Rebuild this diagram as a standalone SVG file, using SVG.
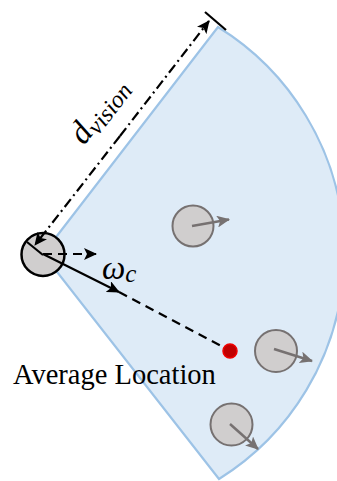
<svg xmlns="http://www.w3.org/2000/svg" width="337" height="481" viewBox="0 0 337 481">
<style>
.agent{fill:#d0cece;stroke:#767171;stroke-width:2}
.garrow{stroke:#767171;stroke-width:2.5;fill:none;marker-end:url(#ag)}
.blk{stroke:#000;stroke-width:2.2;fill:none}
.lbl{font-family:"Liberation Serif",serif;font-style:italic;fill:#000}
</style>
<defs>
<marker id="ab" markerUnits="userSpaceOnUse" markerWidth="14" markerHeight="12" refX="12" refY="6" orient="auto">
<path d="M0,0 L13,6 L0,12 L3,6 Z" fill="#000"/>
</marker>
<marker id="ag" markerUnits="userSpaceOnUse" markerWidth="14" markerHeight="12" refX="12" refY="6" orient="auto">
<path d="M0,0 L13,6 L0,12 L3,6 Z" fill="#767171"/>
</marker>
</defs>
<g id="sector">
<path d="M43,254 L218,27 A266,266 0 0 1 219,479 Z" fill="#deebf7" stroke="#9dc3e6" stroke-width="2.2"/>
</g>
<g id="agent1"><circle class="agent" cx="193" cy="226" r="20.5"/><line class="garrow" x1="192" y1="226" x2="229" y2="219.5"/></g>
<g id="agent2"><circle class="agent" cx="276" cy="351" r="21"/><line class="garrow" x1="274" y1="349" x2="312" y2="361"/></g>
<g id="agent3"><circle class="agent" cx="231.5" cy="424.5" r="21"/><line class="garrow" x1="230" y1="424" x2="258" y2="449"/></g>
<g id="self"><circle cx="43" cy="254.5" r="21.5" fill="#d0cece" stroke="#000" stroke-width="2.5"/></g>
<g id="avg"><circle cx="230" cy="351" r="7" fill="#c00000" stroke="#f00000" stroke-width="1.5"/></g>
<g id="connectors">
<line class="blk" x1="43" y1="255" x2="27" y2="242"/>
<line class="blk" x1="205" y1="12" x2="226" y2="30"/>
<line class="blk" x1="120" y1="136" x2="209" y2="21" stroke-width="2.6" stroke-dasharray="10 4 2 4" marker-end="url(#ab)"/>
<line class="blk" x1="120" y1="136" x2="35" y2="245" stroke-width="2.6" stroke-dasharray="10 4 2 4" marker-end="url(#ab)"/>
<line class="blk" x1="43" y1="254" x2="96" y2="254" stroke-dasharray="9 6" marker-end="url(#ab)"/>
<line class="blk" x1="43" y1="254" x2="119" y2="292" marker-end="url(#ab)"/>
<line class="blk" x1="119" y1="292" x2="225" y2="348" stroke-dasharray="9 6"/>
</g>
<g id="labels">
<text class="lbl" transform="translate(84,146) rotate(-52)"><tspan font-size="33">d</tspan><tspan font-size="24" dy="5">vision</tspan></text>
<text class="lbl" x="102" y="279" font-size="33">ω<tspan font-size="25" dy="3">c</tspan></text>
<text x="13" y="384" font-family="Liberation Serif,serif" font-size="28.5" fill="#000">Average Location</text>
</g>
</svg>
